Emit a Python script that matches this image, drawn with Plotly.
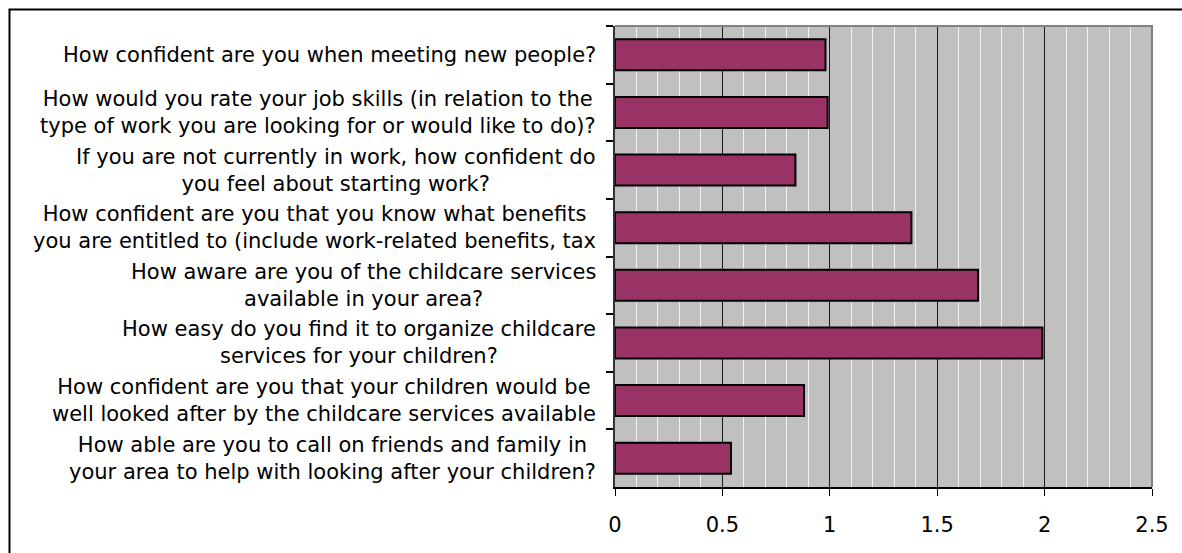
import plotly.graph_objects as go

# Survey questions (category labels, top to bottom) and mean scores
questions = [
    "How confident are you when meeting new people?",
    "How would you rate your job skills (in relation to the<br>type of work you are looking for or would like to do)?",
    "If you are not currently in work, how confident do<br>you feel about starting work?",
    "How confident are you that you know what benefits<br>you are entitled to (include work-related benefits, tax",
    "How aware are you of the childcare services<br>available in your area?",
    "How easy do you find it to organize childcare<br>services for your children?",
    "How confident are you that your children would be<br>well looked after by the childcare services available",
    "How able are you to call on friends and family in<br>your area to help with looking after your children?",
]
scores = [0.98, 0.99, 0.84, 1.38, 1.69, 1.99, 0.88, 0.54]

x_ticks = [0, 0.5, 1, 1.5, 2, 2.5]
x_tick_text = ["0", "0.5", "1", "1.5", "2", "2.5"]

FONT = "DejaVu Sans"
W, H = 1182, 553
ML, MR, MT, MB = 615, 30, 26, 66
PW, PH = W - ML - MR, H - MT - MB

fig = go.Figure(
    go.Bar(
        x=scores,
        y=questions,
        orientation="h",
        marker=dict(color="#993366", line=dict(color="black", width=2)),
        hoverinfo="x+y",
    )
)

# Centered multi-line category labels to the left of the plot
annotations = [
    dict(
        x=0, xref="paper", xanchor="right", xshift=-17,
        y=q, yref="y", yanchor="middle",
        text=q, align="center", showarrow=False,
        font=dict(family=FONT, size=21, color="black"),
    )
    for q in questions
]

def px_to_paper_x(px):
    return (px - ML) / PW

def px_to_paper_y(py):
    return 1 - (py - MT) / PH

shapes = [
    # outer frame around the chart
    dict(type="rect", xref="paper", yref="paper",
         x0=px_to_paper_x(9.5), x1=px_to_paper_x(W + 40),
         y0=px_to_paper_y(H + 40), y1=px_to_paper_y(9.5),
         line=dict(color="black", width=2), fillcolor="rgba(0,0,0,0)", layer="above"),
    # grey border on top and right of the plot area
    dict(type="path", xref="paper", yref="paper",
         path="M 0,1 L 1,1 L 1,0",
         line=dict(color="#808080", width=2), layer="above"),
]

fig.update_layout(
    width=W, height=H,
    margin=dict(l=ML, r=MR, t=MT, b=MB),
    paper_bgcolor="white",
    plot_bgcolor="#C0C0C0",
    bargap=0.46,
    showlegend=False,
    font=dict(family=FONT, size=21, color="black"),
    annotations=annotations,
    shapes=shapes,
)

fig.update_xaxes(
    range=[0, 2.5],
    tickvals=x_ticks, ticktext=x_tick_text,
    ticks="outside", ticklen=7, tickwidth=1, tickcolor="black",
    showline=True, linecolor="black", linewidth=1.5,
    showgrid=True, gridcolor="#1a1a1a", gridwidth=1,
    zeroline=False,
    minor=dict(dtick=0.1, tick0=0, showgrid=True, gridcolor="#f2f2f2", gridwidth=1, ticks=""),
    ticklabelstandoff=11,
    tickfont=dict(family=FONT, size=21, color="black"),
    fixedrange=True,
)

fig.update_yaxes(
    type="category",
    categoryorder="array", categoryarray=questions,
    autorange="reversed",
    showticklabels=False,
    ticks="outside", tickson="boundaries", ticklen=7, tickwidth=1.5, tickcolor="black",
    showline=True, linecolor="#333333", linewidth=2,
    showgrid=False, zeroline=False,
    fixedrange=True,
)

fig.write_html("out.html")
